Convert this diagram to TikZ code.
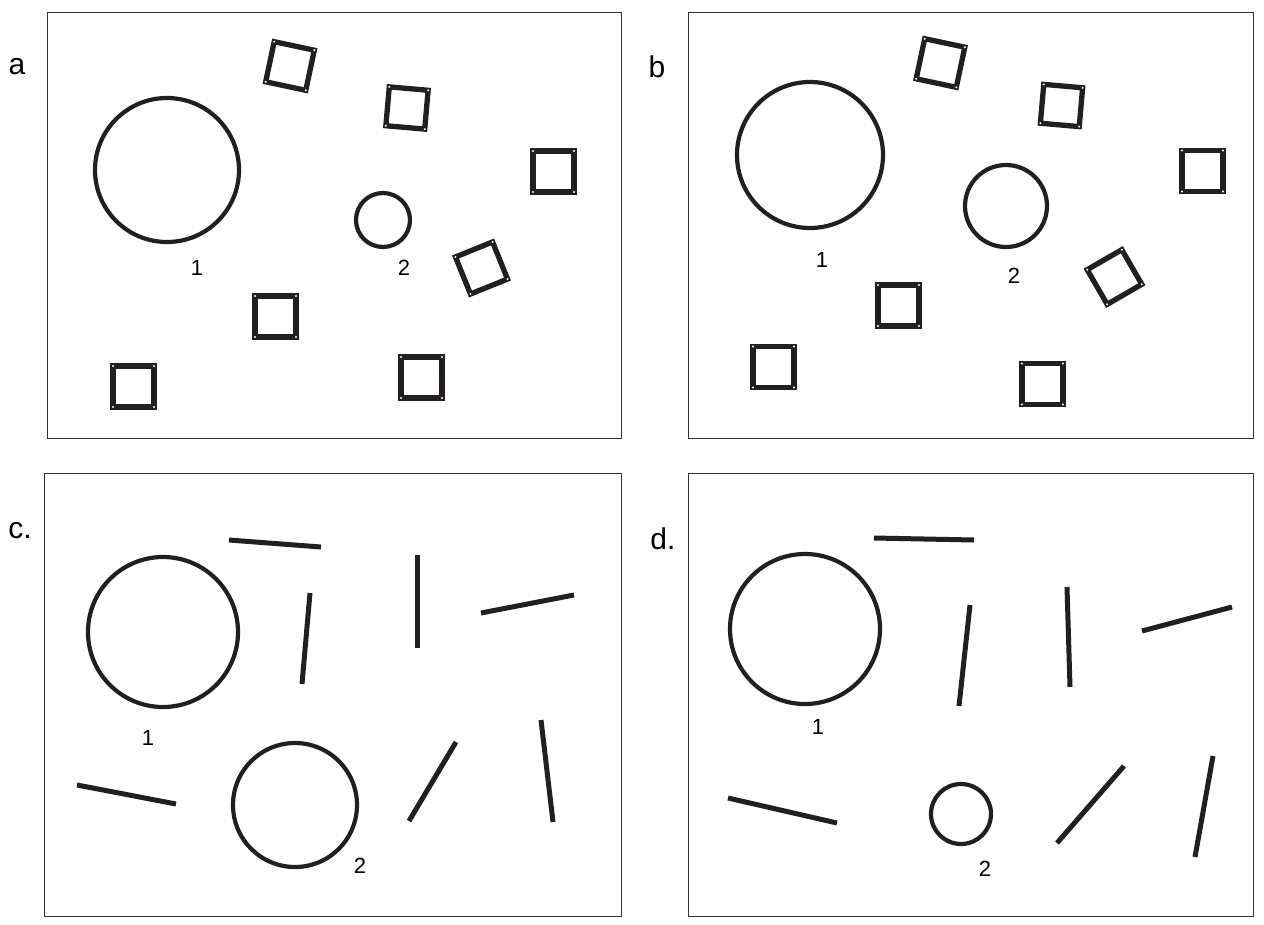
\documentclass[tikz,border=0pt]{standalone}
\usepackage{fontspec}
\setmainfont{Liberation Sans}
\definecolor{ink}{HTML}{231F20}
\begin{document}
\begin{tikzpicture}[x=1pt,y=-1pt,
  panel/.style={draw=black!80, line width=0.9pt},
  ring/.style={draw=ink, line width=4.2pt},
  bar/.style={draw=ink, line width=5pt},
  sqline/.style={draw=ink, line width=5.3pt, line join=miter},
  dot/.style={fill=white, draw=none},
  plabel/.style={font=\fontsize{30}{30}\selectfont, inner sep=0pt},
  nlabel/.style={font=\fontsize{22}{22}\selectfont, inner sep=0pt}]
\useasboundingbox (0,0) rectangle (1264,924);
\newcommand\mysq[4]{%
  \begin{scope}[shift={(#1,#2)}, rotate=#3]
    \draw[sqline] (-#4,-#4) rectangle (#4,#4);
    \foreach \sx/\sy in {-1/-1,1/-1,1/1,-1/1}
      \fill[dot] (\sx*#4,\sy*#4) circle (1.1);
  \end{scope}}
% panels
\draw[panel] (47,12) rectangle (621,438);
\draw[panel] (688,12) rectangle (1253,438);
\draw[panel] (44,473) rectangle (621,916);
\draw[panel] (688,473) rectangle (1253,916);
\node[plabel] (la) at (17,67) {a};
\node[plabel] (lb) at (657,67) {b};
\node[plabel] (lc) at (20,531) {c.};
\node[plabel] (ld) at (663,539) {d.};
% panel a
\draw[ring] (167,170) circle (72);
\draw[ring] (383,220) circle (27);
\node[nlabel] (a1) at (197,268) {1};
\node[nlabel] (a2) at (404,268) {2};
\mysq{290}{66}{-12}{20.5}
\mysq{407}{108}{-5}{19.5}
\mysq{553.5}{171.5}{0}{20.5}
\mysq{481.5}{268}{22}{20}
\mysq{275.5}{316.5}{0}{20.5}
\mysq{133.5}{386.5}{0}{20.5}
\mysq{421.5}{377.5}{0}{20.5}
% panel b
\draw[ring] (810,155) circle (73);
\draw[ring] (1006,206) circle (41);
\node[nlabel] (b1) at (822,260) {1};
\node[nlabel] (b2) at (1014,276) {2};
\mysq{940.5}{63}{-12}{20.5}
\mysq{1061.5}{105.5}{-5}{19.5}
\mysq{1202.5}{171}{0}{20.5}
\mysq{1114.5}{277}{30}{20}
\mysq{898.5}{305.5}{0}{20.5}
\mysq{773.5}{367}{0}{20.5}
\mysq{1042.5}{384}{0}{20.5}
% panel c
\draw[ring] (163,632) circle (75);
\draw[ring] (295,805) circle (62);
\node[nlabel] (c1) at (148,738) {1};
\node[nlabel] (c2) at (360,866) {2};
\draw[bar] (229,540) -- (321,547);
\draw[bar] (310,593) -- (302,684);
\draw[bar] (417,555) -- (417,648);
\draw[bar] (481,613) -- (574,595);
\draw[bar] (77,785) -- (176,804);
\draw[bar] (456,742) -- (409,821);
\draw[bar] (541,720) -- (553,822);
% panel d
\draw[ring] (805,629) circle (75);
\draw[ring] (961,814) circle (30);
\node[nlabel] (d1) at (818,727) {1};
\node[nlabel] (d2) at (985,869) {2};
\draw[bar] (874,538) -- (974,540);
\draw[bar] (970,605) -- (959,706);
\draw[bar] (1067,587) -- (1070,687);
\draw[bar] (1142,631) -- (1232,607);
\draw[bar] (728,798) -- (837,823);
\draw[bar] (1124,766) -- (1057,843);
\draw[bar] (1213,756) -- (1195,857);
\end{tikzpicture}
\end{document}
